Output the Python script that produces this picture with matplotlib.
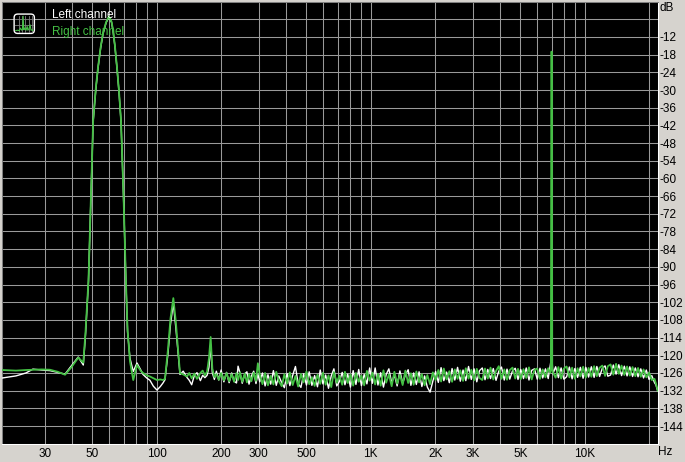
import matplotlib
matplotlib.use("Agg")
import matplotlib.pyplot as plt
from matplotlib.patches import FancyBboxPatch
from matplotlib.ticker import NullLocator

plt.rcParams['font.family'] = ['Liberation Sans', 'DejaVu Sans']

# ---------------- data ----------------
freq_low = [19, 22, 24.5, 26.4, 29, 31.7, 34.5, 37.3, 40, 43,
            45.4, 46.5, 48, 49, 50.5, 52, 53.2, 54.7, 56.1, 58,
            59.8, 61.5, 62.5, 63.8, 65.2, 66.6, 68.1, 70, 71.8, 73.1,
            75, 77.7, 80.9, 84, 86.3, 89.8, 93, 96.5, 100.3, 104,
            107, 109.3, 112.9, 116, 119.6, 123, 125.8, 128.5, 133, 138.5,
            142, 145.7, 150, 154.3, 160, 164, 168, 172, 175.5, 178.7,
            182, 186, 190, 195, 200, 206, 212, 218, 224, 230,
            236, 240, 245, 251, 258, 264, 270, 277, 284, 291,
            297]
right_low = [-125.0, -125.2, -125.0, -124.9, -124.8, -124.9, -125.6, -126.6, -124.0, -120.8,
             -122.5, -112.0, -94.5, -72.0, -40.2, -29.0, -22.2, -15.5, -10.7, -7.0,
             -5.0, -6.8, -9.6, -15.0, -22.2, -30.0, -40.2, -66.0, -94.5, -111.5,
             -122.0, -128.4, -123.3, -125.2, -126.0, -126.8, -127.2, -127.8, -128.4, -128.2,
             -128.4, -128.0, -118.0, -107.5, -100.6, -109.0, -118.0, -126.0, -126.5, -127.2,
             -126.0, -127.8, -126.2, -128.0, -126.0, -125.2, -126.8, -125.5, -121.0, -113.8,
             -124.5, -127.4, -126.4, -128.3, -126.0, -128.5, -126.0, -128.8, -126.4, -129.0,
             -126.0, -128.4, -125.8, -129.0, -126.2, -129.2, -126.5, -128.8, -125.9, -128.7,
             -122.7]
left_low = [-127.7, -127.0, -126.0, -124.7, -125.0, -125.2, -125.8, -126.4, -123.5, -120.6,
            -123.3, -113.0, -95.0, -72.5, -40.5, -29.5, -22.5, -15.8, -11.0, -7.2,
            -5.2, -7.0, -9.8, -15.2, -22.4, -30.3, -40.5, -66.5, -95.0, -112.0,
            -121.0, -125.5, -122.6, -124.8, -126.5, -127.7, -128.5, -130.5, -131.8, -130.6,
            -129.4, -128.3, -119.5, -109.5, -102.3, -111.0, -119.0, -126.5, -125.4, -127.5,
            -128.5, -130.0, -126.8, -125.9, -128.6, -126.8, -127.6, -126.8, -124.0, -116.5,
            -126.0, -128.2, -125.4, -128.4, -125.0, -129.0, -125.8, -129.3, -126.0, -128.8,
            -129.4, -123.7, -126.0, -129.5, -126.3, -125.6, -129.8, -127.0, -125.4, -129.6,
            -126.4]

freq_a = [303, 312, 321, 331, 341, 351, 362, 372, 384, 395,
          407, 419, 432, 445, 458, 472, 486, 501, 516, 531,
          547, 564, 581, 598, 616, 635, 654, 673, 694, 714,
          736, 758, 781, 804, 828, 853, 879, 905, 932, 960,
          989]
right_a = [-126.5, -129.8, -126.0, -130.2, -127.0, -129.9, -125.6, -128.8, -130.5, -126.4,
           -129.6, -125.8, -130.1, -127.0, -130.6, -126.3, -129.2, -125.5, -129.8, -127.4,
           -130.4, -126.6, -129.7, -125.9, -130.0, -126.8, -130.8, -125.7, -129.3, -126.9,
           -130.0, -125.6, -129.4, -126.5, -130.3, -126.0, -129.0, -126.9, -130.2, -125.3,
           -128.6]
left_a = [-129.0, -126.0, -130.4, -126.6, -129.8, -125.2, -130.2, -127.0, -129.3, -131.0,
          -126.2, -130.3, -126.8, -123.8, -129.6, -130.9, -126.3, -130.1, -125.6, -130.2,
          -126.9, -130.7, -125.0, -129.7, -126.7, -131.2, -127.0, -124.6, -130.4, -128.9,
          -125.8, -130.0, -126.4, -130.8, -125.2, -129.9, -124.8, -130.3, -126.5, -129.7,
          -124.3]

freq_b = [1019, 1049, 1081, 1113, 1147, 1181, 1216, 1253, 1290, 1329,
          1369, 1410, 1452, 1496, 1541, 1587, 1634, 1683, 1734, 1786,
          1839, 1894, 1951]
right_b = [-125.9, -129.9, -126.3, -130.3, -125.1, -129.3, -126.5, -130.5, -125.6, -129.6,
           -126.6, -130.1, -125.2, -129.4, -126.1, -130.0, -125.5, -129.2, -126.4, -130.2,
           -126.7, -129.8, -125.8]
left_b = [-129.5, -124.3, -130.1, -125.9, -130.8, -126.5, -124.6, -129.4, -126.6, -130.4,
          -125.3, -129.5, -126.7, -124.9, -130.2, -126.0, -129.9, -125.6, -130.6, -127.0,
          -130.8, -132.5, -128.8]

freq_c = [2010, 2070, 2132, 2196, 2262, 2330, 2400, 2472, 2546, 2622,
          2701, 2782, 2865, 2951, 3040, 3131, 3225, 3322, 3421, 3524,
          3630, 3739, 3851, 3966, 4085, 4208, 4334, 4464, 4598, 4736,
          4878, 5024, 5175, 5330, 5490, 5655, 5824, 5999, 6179, 6364,
          6555, 6752, 6900]
right_c = [-128.4, -125.0, -128.9, -124.5, -128.2, -125.4, -129.0, -124.8, -128.0, -125.1,
           -128.7, -124.4, -127.9, -124.9, -128.5, -124.6, -127.7, -128.4, -124.5, -127.9,
           -124.2, -128.2, -125.3, -123.7, -128.0, -124.8, -128.3, -125.0, -124.2, -127.9,
           -124.6, -128.1, -124.7, -127.7, -124.1, -128.2, -124.9, -124.5, -128.0, -124.8,
           -127.5, -124.4, -126.0]
left_c = [-125.5, -129.2, -124.2, -128.6, -125.7, -129.3, -124.5, -128.4, -124.1, -128.8,
          -125.0, -128.6, -123.8, -128.2, -124.6, -129.0, -125.2, -124.3, -128.3, -124.8,
          -127.9, -124.5, -128.5, -125.4, -124.0, -128.4, -124.7, -128.1, -125.3, -124.4,
          -128.2, -124.8, -127.9, -124.3, -128.4, -125.1, -124.6, -128.1, -124.4, -127.7,
          -124.6, -127.9, -123.5]

freq_spike = [6950, 6985, 7000, 7015, 7050, 7100]
right_spike = [-125.0, -17.0, -17.0, -17.0, -124.5, -125.8]
left_spike = [-122.0, -119.0, -116.0, -119.0, -122.5, -126.3]

freq_d = [7313, 7532, 7758, 7991, 8231, 8478, 8732, 8994, 9264, 9542,
          9828, 10123, 10427, 10739, 11062, 11393, 11735, 12087, 12450, 12823,
          13208, 13604, 14012, 14433, 14866, 15312, 15771, 16244, 16732, 17234,
          17751, 18283, 18832, 19397, 19979, 20578, 21196, 21500, 21800, 21950]
right_d = [-127.6, -124.0, -127.9, -124.5, -123.8, -127.5, -124.2, -128.0, -124.4, -127.2,
           -123.9, -127.6, -124.3, -127.3, -123.7, -127.1, -124.2, -123.5, -127.0, -123.7,
           -123.1, -126.6, -122.9, -126.3, -123.5, -126.7, -123.8, -126.9, -124.0, -127.1,
           -124.3, -127.3, -124.8, -127.5, -125.8, -128.4, -128.0, -129.5, -131.2, -132.0]
left_d = [-123.9, -127.6, -124.3, -128.1, -127.3, -124.0, -128.0, -124.5, -127.5, -124.1,
          -127.8, -124.1, -127.4, -123.9, -127.5, -123.8, -127.2, -124.4, -123.6, -127.1,
          -126.7, -123.3, -126.4, -123.2, -126.9, -123.7, -127.0, -123.9, -127.2, -124.3,
          -127.3, -124.6, -127.7, -125.0, -128.2, -126.9, -129.3, -130.0, -131.5, -132.2]

freqs = freq_low + freq_a + freq_b + freq_c + freq_spike + freq_d
right_db = right_low + right_a + right_b + right_c + right_spike + right_d
left_db = left_low + left_a + left_b + left_c + left_spike + left_d

x_tick_vals = [30, 50, 100, 200, 300, 500, 1000, 2000, 3000, 5000, 10000]
x_tick_labels = ['30', '50', '100', '200', '300', '500', '1K', '2K', '3K', '5K', '10K']
grid_freqs = [30, 40, 50, 60, 70, 80, 90,
              100, 200, 300, 400, 500, 600, 700, 800, 900,
              1000, 2000, 3000, 4000, 5000, 6000, 7000, 8000, 9000,
              10000, 20000]
y_tick_vals = [-12, -18, -24, -30, -36, -42, -48, -54, -60, -66, -72, -78, -84, -90,
               -96, -102, -108, -114, -120, -126, -132, -138, -144]
grid_db = [-6] + y_tick_vals
series_names = ['Left channel', 'Right channel']

icon_x = [0.12, 0.2, 0.28, 0.33, 0.38, 0.42, 0.45, 0.48, 0.52, 0.58, 0.63, 0.66, 0.7, 0.76, 0.8, 0.84, 0.88]
icon_y = [0.18, 0.2, 0.18, 0.3, 0.2, 0.25, 0.85, 0.22, 0.3, 0.2, 0.38, 0.2, 0.24, 0.45, 0.2, 0.22, 0.18]
icon_grid_x = [0.25, 0.4, 0.55, 0.7, 0.85]
icon_grid_y = [0.45, 0.7]

# ---------------- style ----------------
W, H = 685, 462
BG = '#d6d3ce'
GRID = '#9a9a9a'
GREEN = '#44c044'

fig = plt.figure(figsize=(W / 100, H / 100), dpi=100, facecolor=BG)
ax = fig.add_axes([1.7 / W, 1 - 443.7 / H, 656.3 / W, 442.1 / H])
ax.set_facecolor('black')
ax.set_xscale('log')
ax.set_xlim(18.87, 22000)
ax.set_ylim(-150, 0)

for f in grid_freqs:
    ax.axvline(f, color=GRID, lw=0.75, zorder=1)
for d in grid_db:
    ax.axhline(d, color=GRID, lw=0.75, zorder=1)

ax.plot(freqs, left_db, color='white', lw=1.0, zorder=3)
ax.plot(freqs, right_db, color=GREEN, lw=1.3, zorder=4)

ax.set_xticks(x_tick_vals)
ax.set_xticklabels(x_tick_labels)
ax.xaxis.set_minor_locator(NullLocator())
ax.tick_params(axis='x', length=0, pad=3, labelsize=8.5, colors='black')

ax.yaxis.tick_right()
ax.set_yticks(y_tick_vals)
ax.set_yticklabels([f'-{abs(v)}' for v in y_tick_vals])
ax.yaxis.set_minor_locator(NullLocator())
ax.tick_params(axis='y', length=0, pad=1.0, labelsize=8.5, colors='black')

for side in ['top', 'left']:
    ax.spines[side].set_color('#808080')
    ax.spines[side].set_linewidth(0.75)
for side in ['bottom', 'right']:
    ax.spines[side].set_color('white')
    ax.spines[side].set_linewidth(0.75)

ax.text(1.003, -2.2, 'dB', transform=ax.get_yaxis_transform(), ha='left', va='center',
        fontsize=8.5, color='black')
fig.text(658 / W, 1 - 452 / H, 'Hz', ha='left', va='center', fontsize=8.5, color='black')

# legend
fig.text(52 / W, 1 - 15 / H, series_names[0], ha='left', va='center', fontsize=8.5, color='white')
fig.text(52 / W, 1 - 31.5 / H, series_names[1], ha='left', va='center', fontsize=8.5, color=GREEN)

iax = fig.add_axes([13 / W, 1 - 34.5 / H, 22.5 / W, 21.5 / H])
iax.set_xlim(0, 1)
iax.set_ylim(0, 1)
iax.axis('off')
iax.add_patch(FancyBboxPatch((0.05, 0.05), 0.9, 0.9, boxstyle='round,pad=0,rounding_size=0.16',
                             ec='white', fc='black', lw=1.0))
for gx in icon_grid_x:
    iax.plot([gx, gx], [0.12, 0.88], color='#808080', lw=0.6)
for gy in icon_grid_y:
    iax.plot([0.1, 0.9], [gy, gy], color='#808080', lw=0.6)
iax.plot(icon_x, icon_y, color=GREEN, lw=0.8)

fig.savefig('out.png', dpi=100, facecolor=BG)
